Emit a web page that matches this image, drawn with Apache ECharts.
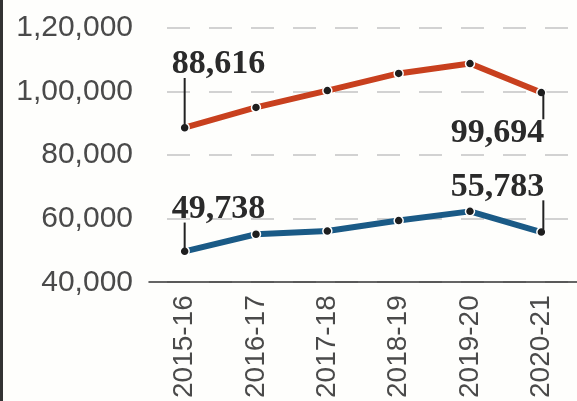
<!DOCTYPE html>
<html>
<head>
<meta charset="utf-8">
<script src="https://cdn.jsdelivr.net/npm/echarts@6/dist/echarts.min.js"></script>
<style>
  html, body { margin: 0; padding: 0; background: #fefefc; }
  #chart { width: 577px; height: 401px; }
  #edge { position: absolute; left: 0; top: 0; width: 3px; height: 401px; background: #333; }
</style>
</head>
<body>
<div id="chart"></div>
<div id="edge"></div>
<script>
const categories = ['2015-16', '2016-17', '2017-18', '2018-19', '2019-20', '2020-21'];
const redValues = [88616, 95000, 100300, 105700, 108800, 99694];
const blueValues = [49738, 55100, 56100, 59400, 62300, 55783];
const yTicks = [40000, 60000, 80000, 100000, 120000];

// indian digit grouping: 1,20,000
function indian(n) {
    let s = String(n), last = s.slice(-3), rest = s.slice(0, -3);
    if (!rest) return last;
    return rest.replace(/\B(?=(\d{2})+(?!\d))/g, ',') + ',' + last;
}

const valueFont = { fontFamily: 'Liberation Serif', fontWeight: 'bold', fontSize: 34, color: '#2a2a2a', lineHeight: 27 };

// label with leader line, above or below the point
function leader(up, left, len) {
    let rich = {
        v: valueFont,
        s: { width: 12, height: len, lineHeight: len },
        g: { width: 2, height: len, lineHeight: len, backgroundColor: '#222', align: left ? 'left' : 'right' }
    };
    return {
        show: true,
        position: up ? 'top' : 'bottom',
        distance: -4.5,
        align: left ? 'left' : 'right',
        offset: left ? [-13, 0] : [3, 0],
        formatter: p => {
            let t = '{v|' + indian(p.value) + '}';
            let l = left ? '{s|}{g|}' : '{g|}';
            return up ? t + '\n' + l : l + '\n' + t;
        },
        rich: rich
    };
}

function build(values, labels) {
    return values.map((v, i) => labels[i] ? { value: v, label: labels[i] } : v);
}

let chart = echarts.init(document.getElementById('chart'));
let option = {
    animation: false,
    grid: { left: 149, top: 28, width: 432, bottom: 116 },
    xAxis: {
        type: 'category',
        data: categories,
        boundaryGap: true,
        axisLine: { lineStyle: { color: '#333', width: 1.5 } },
        axisTick: { inside: true, length: 8, lineStyle: { color: '#555', width: 1 } },
        axisLabel: {
            rotate: 90,
            margin: 13,
            fontFamily: 'Liberation Sans',
            fontSize: 28,
            color: '#4a4a4a'
        }
    },
    yAxis: {
        type: 'value',
        min: 40000,
        max: 120000,
        interval: 20000,
        axisLine: { show: false },
        axisTick: { show: false },
        axisLabel: {
            margin: 16,
            fontFamily: 'Liberation Sans',
            fontSize: 30,
            color: '#4a4a4a',
            formatter: v => yTicks.indexOf(v) >= 0 ? indian(v) : ''
        },
        splitLine: {
            lineStyle: { color: '#c4c4c4', width: 1.5, type: [23, 19], dashOffset: 24 }
        }
    },
    series: [
        {
            name: 'red',
            type: 'line',
            data: build(redValues, { 0: leader(true, true, 49), 5: leader(false, false, 26) }),
            lineStyle: { color: '#c8401e', width: 6 },
            symbol: 'circle',
            symbolSize: 9,
            itemStyle: { color: '#1e1e1e', borderColor: '#fff', borderWidth: 1.5 },
            z: 3
        },
        {
            name: 'blue',
            type: 'line',
            data: build(blueValues, { 0: leader(true, true, 28), 5: leader(true, false, 31) }),
            lineStyle: { color: '#1a5a86', width: 6 },
            symbol: 'circle',
            symbolSize: 9,
            itemStyle: { color: '#1e1e1e', borderColor: '#fff', borderWidth: 1.5 },
            z: 3
        }
    ]
};
chart.setOption(option);
</script>
</body>
</html>
